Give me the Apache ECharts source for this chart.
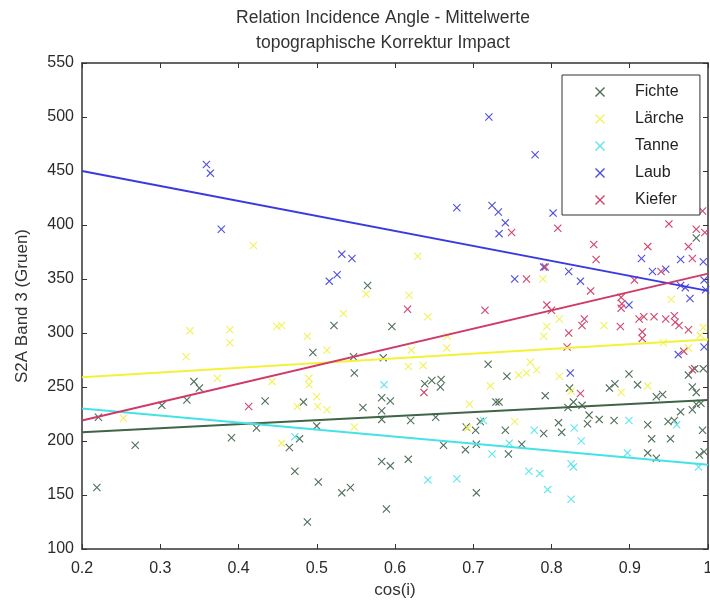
<!DOCTYPE html>
<html>
<head>
<meta charset="utf-8">
<script src="https://cdn.jsdelivr.net/npm/echarts@6/dist/echarts.min.js"></script>
<style>
  html, body { margin: 0; padding: 0; background: #fff; }
  #chart { width: 710px; height: 600px; }
</style>
</head>
<body>
<div id="chart"></div>
<script>
// scatter points [cos(i), S2A Band 3]
var fichte = [
  [0.219,157],[0.221,222],[0.268,196],[0.302,233],[0.334,238],[0.343,255],[0.35,249],[0.391,203],
  [0.423,212],[0.434,237],[0.465,194],[0.478,202],[0.472,172],[0.483,236],[0.488,125],[0.495,282],
  [0.5,214],[0.502,162],[0.522,307],[0.532,152],[0.543,157],[0.547,278],[0.548,263],[0.559,231],
  [0.565,344],[0.583,240],[0.594,237],[0.583,228],[0.583,220],[0.585,277],[0.596,306],[0.583,181],
  [0.594,177],[0.589,137],[0.617,183],[0.62,219],[0.638,253],[0.647,256],[0.659,257],[0.658,250],
  [0.652,222],[0.662,196],[0.69,192],[0.704,197],[0.691,213],[0.703,210],[0.709,218],[0.704,152],
  [0.719,271],[0.729,236],[0.733,236],[0.741,210],[0.745,188],[0.743,260],[0.762,197],[0.792,242],
  [0.79,207],[0.809,217],[0.813,208],[0.821,231],[0.823,249],[0.828,236],[0.839,233],[0.848,224],
  [0.846,216],[0.861,220],[0.88,219],[0.874,249],[0.881,253],[0.899,262],[0.91,252],[0.923,215],
  [0.928,202],[0.923,189],[0.934,184],[0.934,241],[0.942,243],[0.949,218],[0.957,219],[0.965,227],
  [0.952,202],[0.975,261],[0.983,267],[0.994,267],[0.98,250],[0.985,245],[0.98,229],[0.985,234],
  [0.991,235],[0.993,210],[0.989,187],[0.995,190],[0.985,388]
];
var laerche = [
  [0.253,221],[0.333,278],[0.338,302],[0.389,303],[0.389,291],[0.373,258],[0.419,381],[0.443,255],
  [0.449,306],[0.455,307],[0.455,198],[0.475,232],[0.488,297],[0.49,258],[0.49,252],[0.5,241],
  [0.501,232],[0.513,229],[0.513,284],[0.534,318],[0.548,213],[0.563,336],[0.617,269],[0.621,284],
  [0.618,335],[0.629,371],[0.636,270],[0.642,315],[0.666,286],[0.667,297],[0.693,212],[0.695,234],
  [0.722,251],[0.753,218],[0.758,261],[0.768,263],[0.773,273],[0.781,266],[0.789,350],[0.79,297],
  [0.794,306],[0.81,313],[0.81,260],[0.825,246],[0.867,307],[0.889,245],[0.923,251],[0.943,291],
  [0.953,331],[0.994,305],[0.975,286],[0.99,298]
];
var tanne = [
  [0.472,204],[0.586,252],[0.713,219],[0.724,188],[0.746,198],[0.642,164],[0.679,165],[0.771,172],
  [0.785,170],[0.778,210],[0.795,155],[0.825,179],[0.828,176],[0.829,212],[0.838,200],[0.825,146],
  [0.897,189],[0.899,219],[0.96,215],[0.988,176]
];
var laub = [
  [0.359,456],[0.364,448],[0.378,396],[0.516,348],[0.526,354],[0.532,373],[0.545,369],[0.679,416],
  [0.72,500],[0.724,418],[0.732,412],[0.733,392],[0.741,402],[0.753,350],[0.779,465],[0.79,361],
  [0.802,411],[0.822,357],[0.824,263],[0.837,348],[0.899,326],[0.915,369],[0.929,357],[0.946,359],
  [0.962,280],[0.965,368],[0.965,344],[0.971,342],[0.977,332],[0.994,366],[0.995,349],[0.997,340],
  [0.995,287]
];
var kiefer = [
  [0.413,232],[0.616,322],[0.637,245],[0.715,321],[0.749,393],[0.768,350],[0.792,361],[0.794,326],
  [0.8,321],[0.808,397],[0.82,287],[0.822,300],[0.837,244],[0.839,307],[0.842,313],[0.85,339],
  [0.854,382],[0.857,368],[0.888,306],[0.889,333],[0.89,327],[0.889,323],[0.906,349],[0.912,313],
  [0.918,315],[0.916,301],[0.916,295],[0.923,380],[0.931,315],[0.94,357],[0.946,313],[0.95,401],
  [0.957,316],[0.958,310],[0.963,307],[0.969,283],[0.975,303],[0.975,380],[0.98,369],[0.98,266],
  [0.985,396],[0.993,413],[0.996,393]
];

// fitted lines, value at cos(i) = 0.2 and 1
var fitX = [0.2, 1];
var fitFichte = [208, 238];
var fitLaerche = [259, 294];
var fitTanne = [230, 178];
var fitLaub = [450, 339];
var fitKiefer = [219, 355];

var names = ['Fichte', 'Lärche', 'Tanne', 'Laub', 'Kiefer'];
var points = [fichte, laerche, tanne, laub, kiefer];
var fits = [fitFichte, fitLaerche, fitTanne, fitLaub, fitKiefer];
var markColors = ['#50705a', '#f2f25e', '#62e6ee', '#5050e0', '#d2476d'];
var lineColors = ['#3f6446', '#f4f238', '#45e2e6', '#3a3ae0', '#d03a66'];

var cross = 'path://M0,1 L1,0 L5,4 L9,0 L10,1 L6,5 L10,9 L9,10 L5,6 L1,10 L0,9 L4,5 Z';
var font = 'Liberation Sans, Arial, sans-serif';

var myChart = echarts.init(document.getElementById('chart'));

var series = [];
names.forEach(function (n, i) {
  series.push({
    name: n,
    type: 'scatter',
    data: points[i],
    symbol: cross,
    symbolSize: 8,
    itemStyle: { color: markColors[i], opacity: 1 },
    z: 2
  });
});
names.forEach(function (n, i) {
  series.push({
    name: n + ' fit',
    type: 'line',
    data: fitX.map(function (x, k) { return [x, fits[i][k]]; }),
    symbol: 'none',
    silent: true,
    lineStyle: { color: lineColors[i], width: 2 },
    z: 3
  });
});

var option = {
  animation: false,
  title: {
    text: 'Relation Incidence Angle - Mittelwerte\ntopographische Korrektur Impact',
    left: 378,
    textAlign: 'center',
    top: 1,
    textStyle: { fontFamily: font, fontSize: 17.5, fontWeight: 'normal', color: '#333', lineHeight: 25 }
  },
  legend: {
    data: names,
    orient: 'vertical',
    left: 562,
    top: 75,
    padding: [9, 16, 7, 33],
    itemGap: 11,
    itemWidth: 10,
    itemHeight: 14,
    backgroundColor: '#fff',
    borderColor: '#333',
    borderWidth: 1,
    textStyle: { fontFamily: font, fontSize: 16, color: '#222', padding: [0, 0, 0, 25] }
  },
  grid: { left: 82, right: 2, top: 63, bottom: 51, show: false, outerBoundsMode: 'none' },
  xAxis: [{
    type: 'value',
    min: 0.2, max: 1, interval: 0.1,
    name: 'cos(i)',
    nameLocation: 'middle',
    nameGap: 31,
    nameTextStyle: { fontFamily: font, fontSize: 17, color: '#333' },
    axisLine: { lineStyle: { color: '#333', width: 1.5 } },
    axisTick: { inside: true, length: 5, lineStyle: { color: '#333' } },
    axisLabel: { fontFamily: font, fontSize: 16, color: '#2a2a2a', margin: 12 },
    splitLine: { show: false }
  }, {
    type: 'value',
    position: 'top',
    min: 0.2, max: 1, interval: 0.1,
    axisLine: { lineStyle: { color: '#333', width: 1.5 } },
    axisTick: { inside: true, length: 5, lineStyle: { color: '#333' } },
    axisLabel: { show: false },
    splitLine: { show: false }
  }],
  yAxis: [{
    type: 'value',
    min: 100, max: 550, interval: 50,
    name: 'S2A Band 3 (Gruen)',
    nameLocation: 'middle',
    nameGap: 51,
    nameTextStyle: { fontFamily: font, fontSize: 17, color: '#333' },
    axisLine: { show: true, lineStyle: { color: '#333', width: 1.5 } },
    axisTick: { show: true, inside: true, length: 5, lineStyle: { color: '#333' } },
    axisLabel: { fontFamily: font, fontSize: 16, color: '#2a2a2a', margin: 8 },
    splitLine: { show: false }
  }, {
    type: 'value',
    position: 'right',
    min: 100, max: 550, interval: 50,
    axisLine: { show: true, lineStyle: { color: '#333', width: 1.5 } },
    axisTick: { show: true, inside: true, length: 5, lineStyle: { color: '#333' } },
    axisLabel: { show: false },
    splitLine: { show: false }
  }],
  series: series
};

myChart.setOption(option);
</script>
</body>
</html>
